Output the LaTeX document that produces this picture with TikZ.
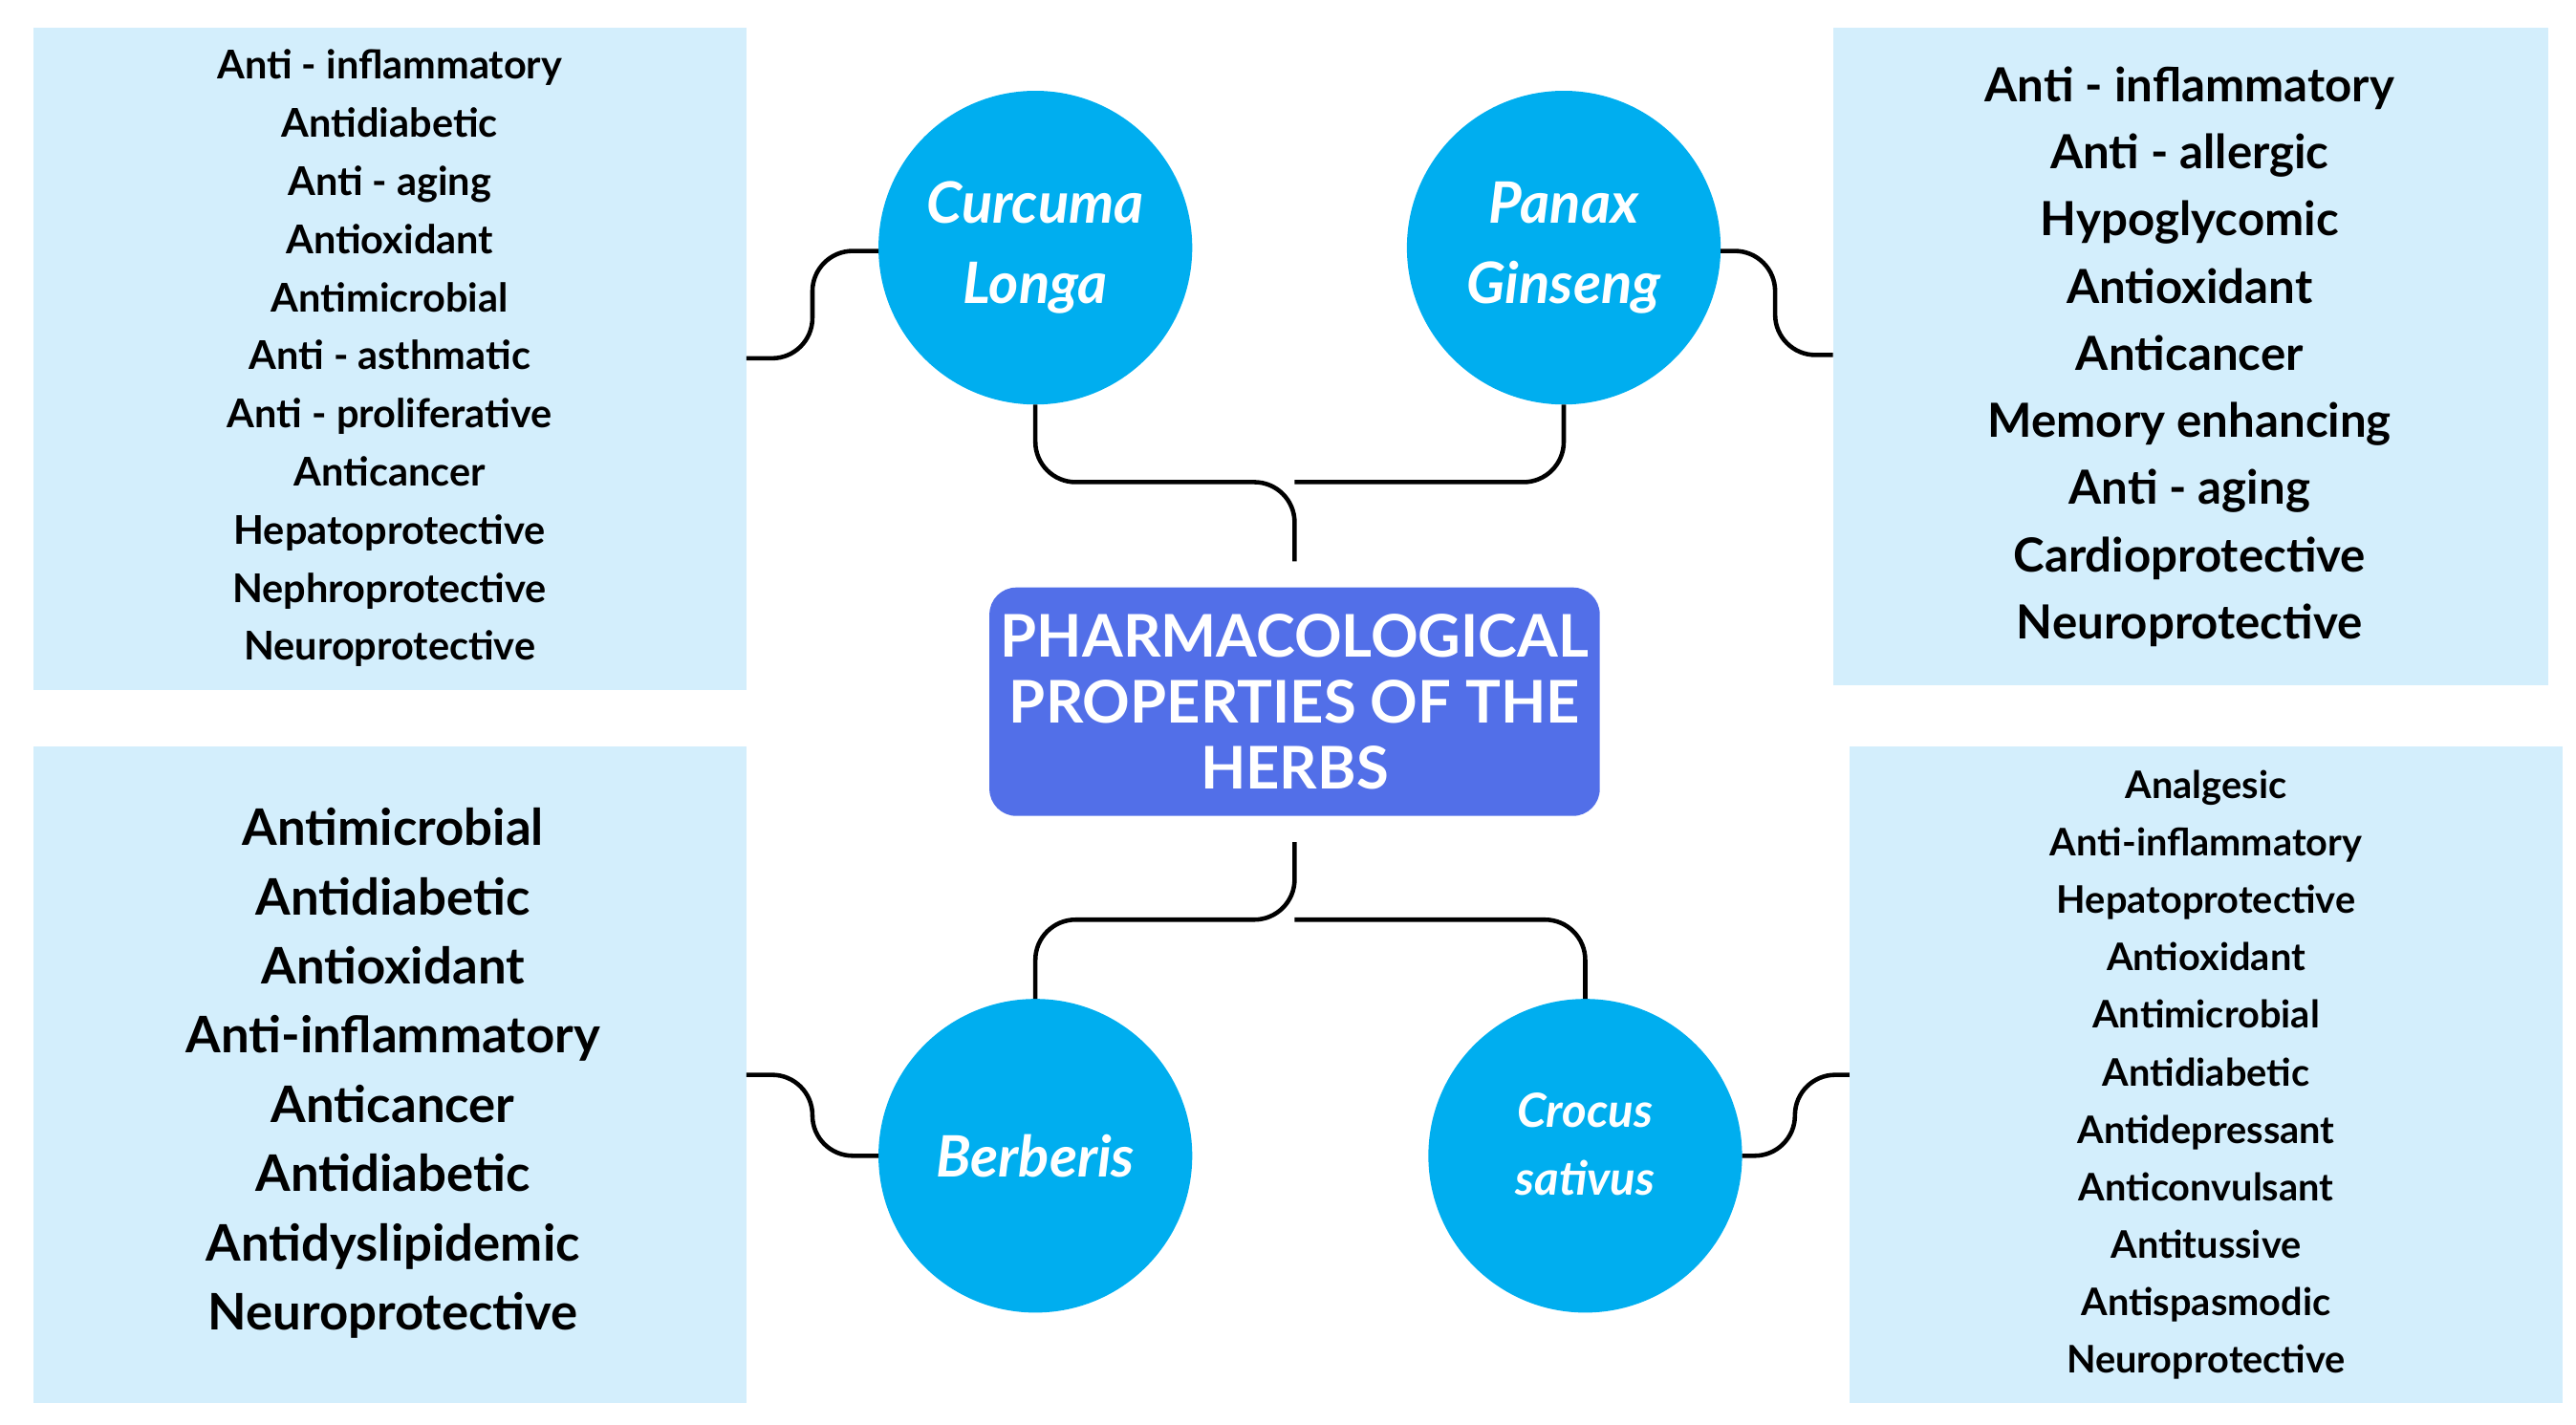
\documentclass[tikz,border=0pt]{standalone}
\usepackage{fontspec}
\setmainfont{Lato}
\definecolor{boxblue}{HTML}{D3EEFC}
\definecolor{herbblue}{HTML}{00AEEF}
\definecolor{titleblue}{HTML}{526FE8}
\begin{document}
\begin{tikzpicture}[x=0.01728cm,y=-0.01728cm,
  prop/.style={fill=boxblue,align=center,inner sep=0pt,font=\bfseries},
  herb/.style={circle,fill=herbblue,minimum size=190\pgflinewidth,text=white,align=center,font=\bfseries\itshape\fontsize{17}{22}\selectfont},
  link/.style={line width=1.3pt,rounded corners=12pt}]
  \useasboundingbox (0,0) rectangle (1560,863);
  %property boxes
  \fill[boxblue] (20,17) rectangle (452,418);
  \fill[boxblue] (1110,17) rectangle (1543,415);
  \fill[boxblue] (20,452) rectangle (452,850);
  \fill[boxblue] (1120,452) rectangle (1552,850);
  \node[align=center,font=\bfseries\fontsize{11.8}{17.3}\selectfont] (curprops) at (236,217)
    {Anti - inflammatory\\Antidiabetic\\Anti - aging\\Antioxidant\\Antimicrobial\\Anti - asthmatic\\Anti - proliferative\\Anticancer\\Hepatoprotective\\Nephroprotective\\Neuroprotective};
  \node[align=center,font=\bfseries\fontsize{14}{20}\selectfont] (panprops) at (1326,216)
    {Anti - inflammatory\\Anti - allergic\\Hypoglycomic\\Antioxidant\\Anticancer\\Memory enhancing\\Anti - aging\\Cardioprotective\\Neuroprotective};
  \node[align=center,font=\bfseries\fontsize{15}{20.6}\selectfont] (berprops) at (238,650)
    {Antimicrobial\\Antidiabetic\\Antioxidant\\Anti-inflammatory\\Anticancer\\Antidiabetic\\Antidyslipidemic\\Neuroprotective};
  \node[align=center,font=\bfseries\fontsize{11.3}{17.1}\selectfont] (croprops) at (1336,651)
    {Analgesic\\Anti-inflammatory\\Hepatoprotective\\Antioxidant\\Antimicrobial\\Antidiabetic\\Antidepressant\\Anticonvulsant\\Antitussive\\Antispasmodic\\Neuroprotective};
  %title
  \node[fill=titleblue,rounded corners=8pt,minimum width=412\pgflinewidth,minimum height=170\pgflinewidth,
    text=white,align=center,font=\bfseries\fontsize{17.5}{19.5}\selectfont] (title) at (784,425)
    {PHARMACOLOGICAL\\PROPERTIES OF THE\\HERBS};
  %herbs
  \fill[herbblue] (627,150) circle (95);
  \fill[herbblue] (947,150) circle (95);
  \fill[herbblue] (627,700) circle (95);
  \fill[herbblue] (960,700) circle (95);
  \node[text=white,align=center,font=\bfseries\itshape\fontsize{17}{24}\selectfont] (curcuma) at (627,150) {Curcuma\\Longa};
  \node[text=white,align=center,font=\bfseries\itshape\fontsize{17}{24}\selectfont] (panax) at (947,150) {Panax\\Ginseng};
  \node[text=white,align=center,font=\bfseries\itshape\fontsize{17}{24}\selectfont] (berberis) at (627,700) {Berberis};
  \node[text=white,align=center,font=\bfseries\itshape\fontsize{14}{20}\selectfont] (crocus) at (960,693) {Crocus\\sativus};
  %connectors
  \coordinate (top) at (784,340);
  \coordinate (bot) at (784,510);
  \draw[link] (627,245) |- (784,292) -- (top);
  \draw[link] (947,245) |- (784,292);
  \draw[link] (bot) |- (627,557) -- (627,605);
  \draw[link] (784,557) -| (960,605);
  \draw[link] (452,217) -| (492,152) -- (532,152);
  \draw[link] (1042,152) -| (1075,215) -- (1110,215);
  \draw[link] (452,651) -| (492,700) -- (532,700);
  \draw[link] (1055,700) -| (1087,651) -- (1120,651);
\end{tikzpicture}
\end{document}
